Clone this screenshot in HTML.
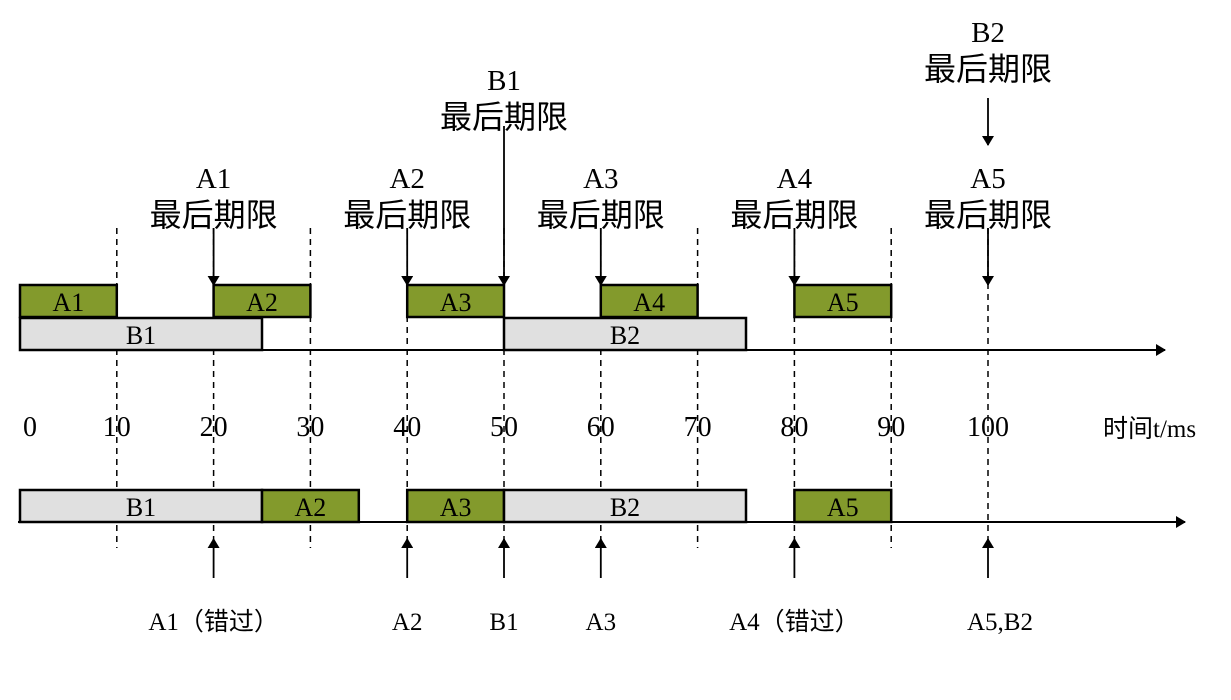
<!DOCTYPE html>
<html><head><meta charset="utf-8"><style>
body{margin:0;background:#fff}
svg text{font-family:"Liberation Serif","Noto Serif CJK SC",serif;fill:#000}
.cn{font-family:"Liberation Serif","Noto Sans CJK SC",sans-serif}
</style></head><body>
<svg id="c" width="1231" height="695" xmlns="http://www.w3.org/2000/svg">
<defs><marker id="ar" markerWidth="10" markerHeight="12" refX="9" refY="6" orient="auto" markerUnits="userSpaceOnUse"><path d="M0,0 L10,6 L0,12 z" fill="#000"/></marker></defs>
</svg>
<script>
const ticks=[0,10,20,30,40,50,60,70,80,90,100];
const topTasks=['A1','A2','A3','A4','A5','B1','B2'];
const topStart=[0,20,40,60,80,0,50];
const topEnd=[10,30,50,70,90,25,75];
const botTasks=['B1','A2','A3','B2','A5'];
const botStart=[0,25,40,50,80];
const botEnd=[25,35,50,75,90];
const deadlineTasks=['A1','A2','B1','A3','A4','B2','A5'];
const deadlineTimes=[20,40,50,60,80,100,100];
const arrivalLabels=['A1（错过）','A2','B1','A3','A4（错过）','A5,B2'];
const arrivalTimes=[20,40,50,60,80,100];
const svg=document.getElementById('c');
const NS='http://www.w3.org/2000/svg';
const x=t=>20+9.68*t;
function mk(tag,attrs,txt){const e=document.createElementNS(NS,tag);for(const k in attrs)e.setAttribute(k,attrs[k]);if(txt!=null)e.textContent=txt;svg.appendChild(e);return e;}
const isA=n=>n[0]==='A';
ticks.slice(1).forEach(t=>{
 const e=mk('line',{x1:x(t),x2:x(t),y1:228,y2:548,stroke:'#000','stroke-width':1.5,'stroke-dasharray':'6,5'});
 
 
});
let a1=mk('line',{x1:21,y1:350,x2:1165,y2:350,stroke:'#000','stroke-width':2,'marker-end':'url(#ar)'});


let a2=mk('line',{x1:18,y1:522,x2:1185,y2:522,stroke:'#000','stroke-width':2,'marker-end':'url(#ar)'});


function bar(name,s,e,y,prefix){
 const r=mk('rect',{x:x(s),y:y,width:x(e)-x(s),height:32,fill:isA(name)?'#839a2c':'#e0e0e0',stroke:'#000','stroke-width':2.5});
 
 
 const t=mk('text',{x:(x(s)+x(e))/2,y:y+26,'text-anchor':'middle','font-size':26},name);
 
 
}
topTasks.forEach((n,i)=>bar(n,topStart[i],topEnd[i],isA(n)?285:318,'top'));
botTasks.forEach((n,i)=>bar(n,botStart[i],botEnd[i],490,'bottom'));
ticks.forEach(t=>{
 const e=mk('text',{x:x(t)+(t===0?10:0),y:436,'text-anchor':'middle','font-size':28},String(t));
 
 
});
let u=mk('text',{x:1103,y:437,'font-size':25,class:'cn'},'时间t/ms');


deadlineTasks.forEach((n,i)=>{
 const t=deadlineTimes[i];let top=188,y1=228,y2=285;
 if(n==='B1'){top=90;y1=126;}
 if(n==='B2'){top=42;y1=98;y2=145;}
 const l=mk('line',{x1:x(t),x2:x(t),y1:y1,y2:y2,stroke:'#000','stroke-width':1.8,'marker-end':'url(#ar)'});
 
 
 const a=mk('text',{x:x(t),y:top,'text-anchor':'middle','font-size':29},n);
 
 
 const b=mk('text',{x:x(t),y:top+38,'text-anchor':'middle','font-size':32,class:'cn'},'最后期限');
 
 
});
arrivalLabels.forEach((n,i)=>{
 const t=arrivalTimes[i];
 const l=mk('line',{x1:x(t),x2:x(t),y1:578,y2:539,stroke:'#000','stroke-width':1.8,'marker-end':'url(#ar)'});
 
 
 const a=mk('text',{x:x(t)+(i===5?12:0),y:630,'text-anchor':'middle','font-size':25,class:'cn'},n);
 
 
});
</script>
</body></html>
